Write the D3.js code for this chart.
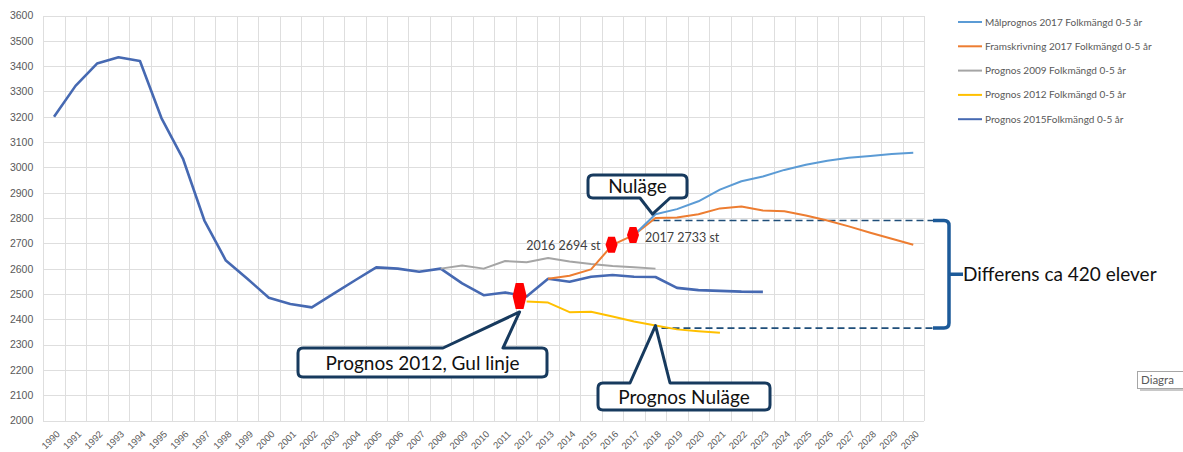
<!DOCTYPE html>
<html>
<head>
<meta charset="utf-8">
<script src="https://cdn.jsdelivr.net/npm/d3@7"></script>
<style>
  body { margin: 0; background: #fff; }
  svg { display: block; font-family: Lato, "Open Sans", sans-serif; }
  .grid line { stroke: #dedede; stroke-width: 1; shape-rendering: crispEdges; }
  .tick text { fill: #595959; }
  .callout { fill: #fff; stroke: #173a5e; stroke-width: 3; stroke-linejoin: round; }
  .calloutText { font-size: 19px; fill: #111; text-anchor: middle; }
</style>
</head>
<body>
<div id="chart"></div>
<script>
// categories
var years = [1990, 1991, 1992, 1993, 1994, 1995, 1996, 1997, 1998, 1999,
  2000, 2001, 2002, 2003, 2004, 2005, 2006, 2007, 2008, 2009,
  2010, 2011, 2012, 2013, 2014, 2015, 2016, 2017, 2018, 2019,
  2020, 2021, 2022, 2023, 2024, 2025, 2026, 2027, 2028, 2029, 2030];

var yTicks = [2000, 2100, 2200, 2300, 2400, 2500, 2600, 2700, 2800, 2900,
  3000, 3100, 3200, 3300, 3400, 3500, 3600];

// series values, null where the series has no value
var malprognos2017 = [null, null, null, null, null, null, null, null, null, null,
  null, null, null, null, null, null, null, null, null, null,
  null, null, null, null, null, null, null, 2733, 2815, 2835,
  2866, 2912, 2945, 2964, 2990, 3010, 3026, 3038, 3045, 3053, 3058];

var framskrivning2017 = [null, null, null, null, null, null, null, null, null, null,
  null, null, null, null, null, null, null, null, null, null,
  null, null, null, 2560, 2572, 2597, 2694, 2733, 2800, 2802,
  2815, 2838, 2845, 2830, 2827, 2810, 2790, 2767, 2742, 2718, 2694];

var prognos2009 = [null, null, null, null, null, null, null, null, null, null,
  null, null, null, null, null, null, null, null, 2600, 2612,
  2600, 2630, 2625, 2642, 2628, 2618, 2610, 2605, 2600, null,
  null, null, null, null, null, null, null, null, null, null, null];

var prognos2012 = [null, null, null, null, null, null, null, null, null, null,
  null, null, null, null, null, null, null, null, null, null,
  null, null, 2470, 2466, 2428, 2430, 2411, 2391, 2375, 2360,
  2353, 2347, null, null, null, null, null, null, null, null, null];

var prognos2015 = [3200, 3322, 3410, 3435, 3420, 3195, 3035, 2790, 2632, 2560,
  2485, 2460, 2447, 2500, 2553, 2605, 2600, 2588, 2600, 2542,
  2495, 2506, 2490, 2560, 2548, 2568, 2575, 2568, 2567, 2524,
  2515, 2512, 2509, 2508, null, null, null, null, null, null, null];

var seriesNames = ["Målprognos 2017 Folkmängd 0-5 år", "Framskrivning 2017  Folkmängd 0-5 år",
  "Prognos 2009 Folkmängd 0-5 år", "Prognos 2012 Folkmängd 0-5 år", "Prognos 2015Folkmängd 0-5 år"];
var seriesValues = [malprognos2017, framskrivning2017, prognos2009, prognos2012, prognos2015];
var seriesColors = ["#5b9bd5", "#ed7d31", "#a5a5a5", "#ffc000", "#4669b2"];
var seriesWidths = [2, 2, 2, 2, 2.6];

// red markers and their labels
var markerYears = [2012, 2016, 2017];
var markerValues = [2492, 2694, 2733];
var markerLabels = ["", "2016 2694 st", "2017 2733 st"];

// levels of the dashed difference lines
var diffLevels = [2790, 2365];

var width = 1183;
var height = 452;

var svg = d3.select("#chart")
  .append("svg")
  .attr("width", width)
  .attr("height", height);

svg.append("rect")
  .attr("width", width)
  .attr("height", height)
  .attr("fill", "#fff");

// scales
var x = d3.scaleBand()
  .domain(years)
  .range([43.3, 924]);

var y = d3.scaleLinear()
  .domain([2000, 3600])
  .range([420.5, 15.5]);

function cx(year){
  return x(year) + x.bandwidth() / 2;
}

// gridlines
var grid = svg.append("g").attr("class", "grid");

grid.selectAll(".hline")
  .data(yTicks)
  .enter()
  .append("line")
  .attr("x1", x.range()[0])
  .attr("x2", x.range()[1])
  .attr("y1", function(d){ return Math.round(y(d)) + 0.5; })
  .attr("y2", function(d){ return Math.round(y(d)) + 0.5; });

grid.selectAll(".vline")
  .data(years.concat(["end"]))
  .enter()
  .append("line")
  .attr("x1", function(d, i){ return Math.round(x.range()[0] + i * x.step()) + 0.5; })
  .attr("x2", function(d, i){ return Math.round(x.range()[0] + i * x.step()) + 0.5; })
  .attr("y1", y(3600))
  .attr("y2", y(2000));

// y axis
var yAxis = d3.axisLeft(y)
  .tickValues(yTicks)
  .tickFormat(d3.format("d"))
  .tickSize(0)
  .tickPadding(10);

svg.append("g")
  .attr("transform", "translate(" + 43.3 + ",0)")
  .call(yAxis)
  .call(function(g){ g.select(".domain").remove(); })
  .selectAll("text")
  .style("font-size", "10.5px");

// x axis, rotated labels
var xAxis = d3.axisBottom(x)
  .tickSize(0)
  .tickPadding(0);

svg.append("g")
  .attr("transform", "translate(0," + y(2000) + ")")
  .call(xAxis)
  .call(function(g){ g.select(".domain").remove(); })
  .selectAll("text")
  .style("font-size", "9.5px")
  .style("text-anchor", "end")
  .attr("y", 0)
  .attr("dy", "0.35em")
  .attr("transform", "translate(4,12) rotate(-45)");

// dashed difference lines
svg.selectAll(".diffLine")
  .data(diffLevels)
  .enter()
  .append("line")
  .attr("x1", function(d, i){ return cx(2018) + (i === 0 ? -3 : 6); })
  .attr("x2", 941)
  .attr("y1", function(d){ return y(d); })
  .attr("y2", function(d){ return y(d); })
  .attr("stroke", "#1f4e79")
  .attr("stroke-width", 1.6)
  .attr("stroke-dasharray", "7,4");

// series lines
var line = d3.line()
  .defined(function(d){ return d.value !== null; })
  .x(function(d){ return cx(d.year); })
  .y(function(d){ return y(d.value); });

[4, 2, 3, 1, 0].forEach(function(s){
  var pts = years.map(function(yr, i){ return {year: yr, value: seriesValues[s][i]}; });
  svg.append("path")
    .datum(pts)
    .attr("fill", "none")
    .attr("stroke", seriesColors[s])
    .attr("stroke-width", seriesWidths[s])
    .attr("stroke-linejoin", "round")
    .attr("d", line);
});

// red hexagon markers
function hexagon(w, h){
  var a = w * 0.28;
  return "M" + (-a) + "," + (-h / 2) + "L" + a + "," + (-h / 2) + "L" + (w / 2) + ",0L" +
    a + "," + (h / 2) + "L" + (-a) + "," + (h / 2) + "L" + (-w / 2) + ",0Z";
}

svg.selectAll(".marker")
  .data(markerYears)
  .enter()
  .append("path")
  .attr("transform", function(d, i){
    var dx = i === 0 ? -7 : -1;
    return "translate(" + (cx(d) + dx) + "," + y(markerValues[i]) + ")";
  })
  .attr("d", function(d, i){ return i === 0 ? hexagon(14, 26) : hexagon(12, 16); })
  .attr("fill", "#ff0000");

svg.selectAll(".markerLabel")
  .data(markerYears)
  .enter()
  .append("text")
  .attr("x", function(d, i){ return i === 1 ? cx(d) - 12 : cx(d) + 11; })
  .attr("y", function(d, i){ return y(markerValues[i]) + (i === 1 ? 5 : 7); })
  .style("text-anchor", function(d, i){ return i === 1 ? "end" : "start"; })
  .style("font-size", "12.5px")
  .style("fill", "#404040")
  .text(function(d, i){ return markerLabels[i]; });

// callout boxes with a pointer
function callout(x0, y0, x1, y1, side, b0, b1, tx, ty){
  var r = 5;
  var p = "M" + (x0 + r) + "," + y0;
  if (side === "top") p += "H" + b0 + "L" + tx + "," + ty + "L" + b1 + "," + y0;
  p += "H" + (x1 - r) + "Q" + x1 + "," + y0 + " " + x1 + "," + (y0 + r);
  p += "V" + (y1 - r) + "Q" + x1 + "," + y1 + " " + (x1 - r) + "," + y1;
  if (side === "bottom") p += "H" + b1 + "L" + tx + "," + ty + "L" + b0 + "," + y1;
  p += "H" + (x0 + r) + "Q" + x0 + "," + y1 + " " + x0 + "," + (y1 - r);
  p += "V" + (y0 + r) + "Q" + x0 + "," + y0 + " " + (x0 + r) + "," + y0 + "Z";
  return p;
}

var callouts = [
  {box: [588, 175, 687, 198], side: "bottom", base: [640, 670], tip: [cx(2018) - 3, y(2815)], text: "Nuläge", ty: 193},
  {box: [298, 348, 547, 377], side: "top", base: [443, 503], tip: [cx(2012) - 7, y(2492) + 16], text: "Prognos 2012, Gul linje", ty: 370},
  {box: [598, 383, 770, 410], side: "top", base: [630, 670], tip: [cx(2018), y(2375)], text: "Prognos Nuläge", ty: 404}
];

callouts.forEach(function(c){
  svg.append("path")
    .attr("class", "callout")
    .attr("d", callout(c.box[0], c.box[1], c.box[2], c.box[3], c.side, c.base[0], c.base[1], c.tip[0], c.tip[1]));
  svg.append("text")
    .attr("class", "calloutText")
    .attr("x", (c.box[0] + c.box[2]) / 2)
    .attr("y", c.ty)
    .text(c.text);
});

// bracket for the difference
var yTop = y(diffLevels[0]);
var yBot = y(diffLevels[1]);
var yMid = (yTop + yBot) / 2;

svg.append("path")
  .attr("d", "M933," + yTop + "H944Q949," + yTop + " 949," + (yTop + 5) +
    "V" + (yBot - 5) + "Q949," + yBot + " 944," + yBot + "H933" +
    "M949," + yMid + "H963")
  .attr("fill", "none")
  .attr("stroke", "#1c5a99")
  .attr("stroke-width", 3.5);

svg.append("text")
  .attr("x", 963)
  .attr("y", yMid + 7)
  .style("font-size", "19px")
  .style("fill", "#111")
  .text("Differens ca 420 elever");

// legend
var legend = svg.append("g")
  .attr("class", "legend")
  .selectAll("g")
  .data(seriesNames)
  .enter()
  .append("g")
  .attr("transform", function(d, i){ return "translate(958," + (22 + i * 24.3) + ")"; });

legend.append("line")
  .attr("x1", 0)
  .attr("x2", 24)
  .attr("stroke", function(d, i){ return seriesColors[i]; })
  .attr("stroke-width", 2);

legend.append("text")
  .attr("x", 27)
  .attr("dy", "0.35em")
  .style("font-size", "10px")
  .style("fill", "#595959")
  .text(function(d){ return d; });

// leftover tooltip of the spreadsheet
svg.append("rect")
  .attr("x", 1137.5)
  .attr("y", 371.5)
  .attr("width", 60)
  .attr("height", 17)
  .attr("fill", "#fff")
  .attr("stroke", "#a6a6a6");

svg.append("line")
  .attr("x1", 1140)
  .attr("x2", 1183)
  .attr("y1", 390)
  .attr("y2", 390)
  .attr("stroke", "#c8c8c8")
  .attr("stroke-width", 2);

svg.append("text")
  .attr("x", 1141)
  .attr("y", 384)
  .style("font-size", "11.5px")
  .style("fill", "#595959")
  .text("Diagra");
</script>
</body>
</html>
